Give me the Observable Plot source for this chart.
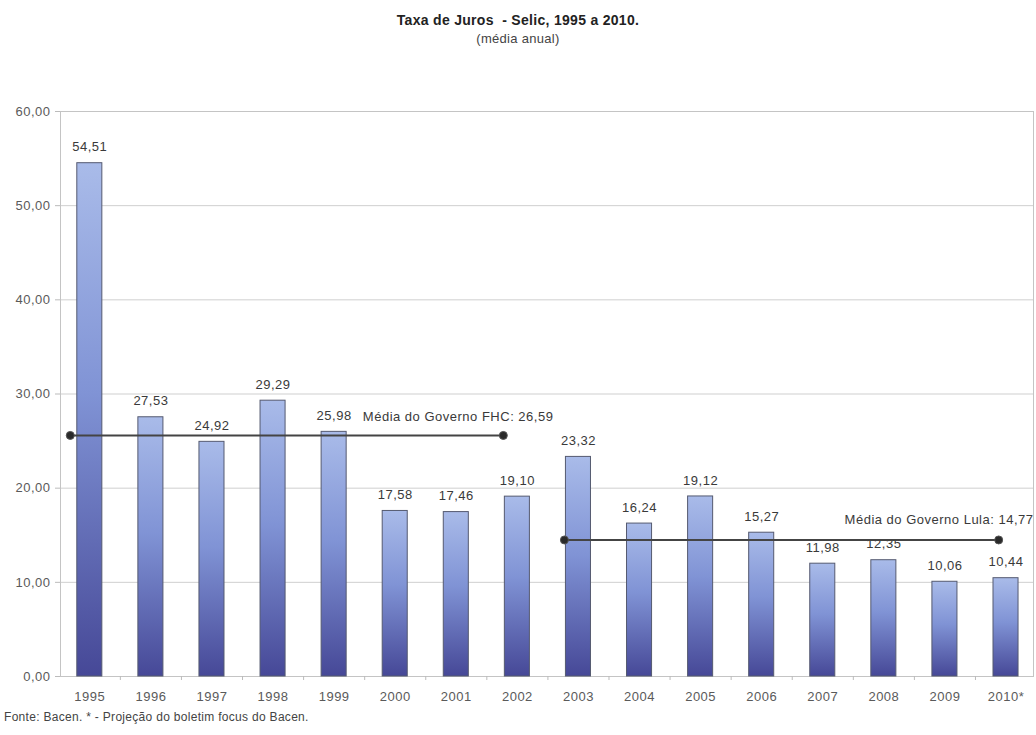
<!DOCTYPE html>
<html>
<head>
<meta charset="utf-8">
<script src="https://cdn.jsdelivr.net/npm/d3@7"></script>
<script src="https://cdn.jsdelivr.net/npm/@observablehq/plot@0.6"></script>
<style>
  html, body { margin: 0; padding: 0; background: #fff; }
  body { width: 1036px; height: 735px; font-family: "Liberation Sans", Arial, sans-serif; position: relative; overflow: hidden; }
  #head { height: 50px; text-align: center; color: #222; }
  #title { font-weight: bold; font-size: 14px; padding-top: 12px; line-height: 16px; letter-spacing: 0.3px; }
  #subtitle { font-size: 13px; color: #444; line-height: 16px; margin-top: 3px; letter-spacing: 0.3px; }
  #chart svg { display: block; }
  #foot { font-size: 12px; color: #444; line-height: 14px; padding-left: 4px; letter-spacing: 0.3px; }
</style>
</head>
<body>
<div id="head">
  <div id="title">Taxa de Juros&nbsp; - Selic, 1995 a 2010.</div>
  <div id="subtitle">(média anual)</div>
</div>
<div id="chart"></div>
<div id="foot">Fonte: Bacen. * - Projeção do boletim focus do Bacen.</div>
<script>
// ---- data ----
const years = [1995, 1996, 1997, 1998, 1999, 2000, 2001, 2002, 2003, 2004, 2005, 2006, 2007, 2008, 2009, 2010];
const yearLabels = ["1995", "1996", "1997", "1998", "1999", "2000", "2001", "2002", "2003", "2004", "2005", "2006", "2007", "2008", "2009", "2010*"];
const selic = [54.51, 27.53, 24.92, 29.29, 25.98, 17.58, 17.46, 19.10, 23.32, 16.24, 19.12, 15.27, 11.98, 12.35, 10.06, 10.44];
const yTicks = [0, 10, 20, 30, 40, 50, 60];

const govNames = ["FHC", "Lula"];
const govAverages = [26.59, 14.77];
const govLineLevels = [25.6, 14.5];      // level at which each average line is drawn in the picture
const govFrom = [1994.68, 2002.77];      // line start (year axis)
const govTo = [2001.77, 2009.88];        // line end (year axis)

// ---- build tables ----
const data = years.map((y, i) => ({year: y, label: yearLabels[i], value: selic[i]}));
const gov = govNames.map((n, i) => ({name: n, avg: govAverages[i], level: govLineLevels[i], from: govFrom[i], to: govTo[i]}));
const govPts = gov.flatMap(g => [{x: g.from, y: g.level}, {x: g.to, y: g.level}]);
const fmt = v => v.toFixed(2).replace(".", ",");
const xDomain = [1994.52, 2010.45];
const halfW = 0.205;

const chart = Plot.plot({
  width: 1036,
  height: 660,
  marginLeft: 60,
  marginRight: 3,
  marginTop: 61,
  marginBottom: 34,
  style: {fontFamily: '"Liberation Sans", Arial, sans-serif', background: "#fff", letterSpacing: "0.5px"},
  x: {domain: xDomain, axis: null},
  y: {domain: [0, 60], axis: null},
  marks: [
    Plot.gridY(yTicks.slice(1), {stroke: "#cfcfcf", strokeOpacity: 1}),
    Plot.frame({stroke: "#c4c4c4"}),
    Plot.axisY(yTicks, {tickFormat: fmt, tickSize: 5, tickPadding: 5, fontSize: 13, fill: "#5a5a5a", stroke: "#bbb"}),
    Plot.axisX(years, {tickFormat: y => yearLabels[years.indexOf(y)], tickSize: 0, tickPadding: 15, fontSize: 13, fill: "#5a5a5a"}),
    Plot.axisX(years.slice(0, -1).map(y => y + 0.5), {tickFormat: () => "", tickSize: 4, stroke: "#bbb"}),
    Plot.rectY(data, {x1: d => d.year - halfW, x2: d => d.year + halfW, y: "value", fill: "url(#barGrad)", stroke: "#555a70", strokeWidth: 1}),
    Plot.text(data, {x: "year", y: "value", text: d => fmt(d.value), dy: -16, fontSize: 13, fill: "#3a3a3a"}),
    Plot.link(gov, {x1: "from", x2: "to", y1: "level", y2: "level", stroke: "#444", strokeWidth: 2}),
    Plot.dot(govPts, {x: "x", y: "y", r: 4, fill: "#2a2a2a", stroke: "#555", strokeWidth: 1}),
    Plot.text(gov.filter(g => g.name === "FHC"), {x: 1999.47, y: "level", text: g => `Média do Governo ${g.name}: ${fmt(g.avg)}`, textAnchor: "start", dy: -19, fontSize: 13, fill: "#3a3a3a"}),
    Plot.text(gov.filter(g => g.name === "Lula"), {x: 2010.45, y: "level", text: g => `Média do Governo ${g.name}: ${fmt(g.avg)}`, textAnchor: "end", dy: -20, fontSize: 13, fill: "#3a3a3a"})
  ]
});

// gradient for the bars (light on top, dark at the base)
const ns = "http://www.w3.org/2000/svg";
const defs = document.createElementNS(ns, "defs");
const grad = document.createElementNS(ns, "linearGradient");
grad.setAttribute("id", "barGrad");
grad.setAttribute("x1", "0"); grad.setAttribute("y1", "0");
grad.setAttribute("x2", "0"); grad.setAttribute("y2", "1");
[["0", "#a9bbe9"], ["0.45", "#8093d5"], ["1", "#464897"]].forEach(([o, c]) => {
  const s = document.createElementNS(ns, "stop");
  s.setAttribute("offset", o);
  s.setAttribute("stop-color", c);
  grad.appendChild(s);
});
defs.appendChild(grad);
chart.insertBefore(defs, chart.firstChild);

document.getElementById("chart").appendChild(chart);
</script>
</body>
</html>
